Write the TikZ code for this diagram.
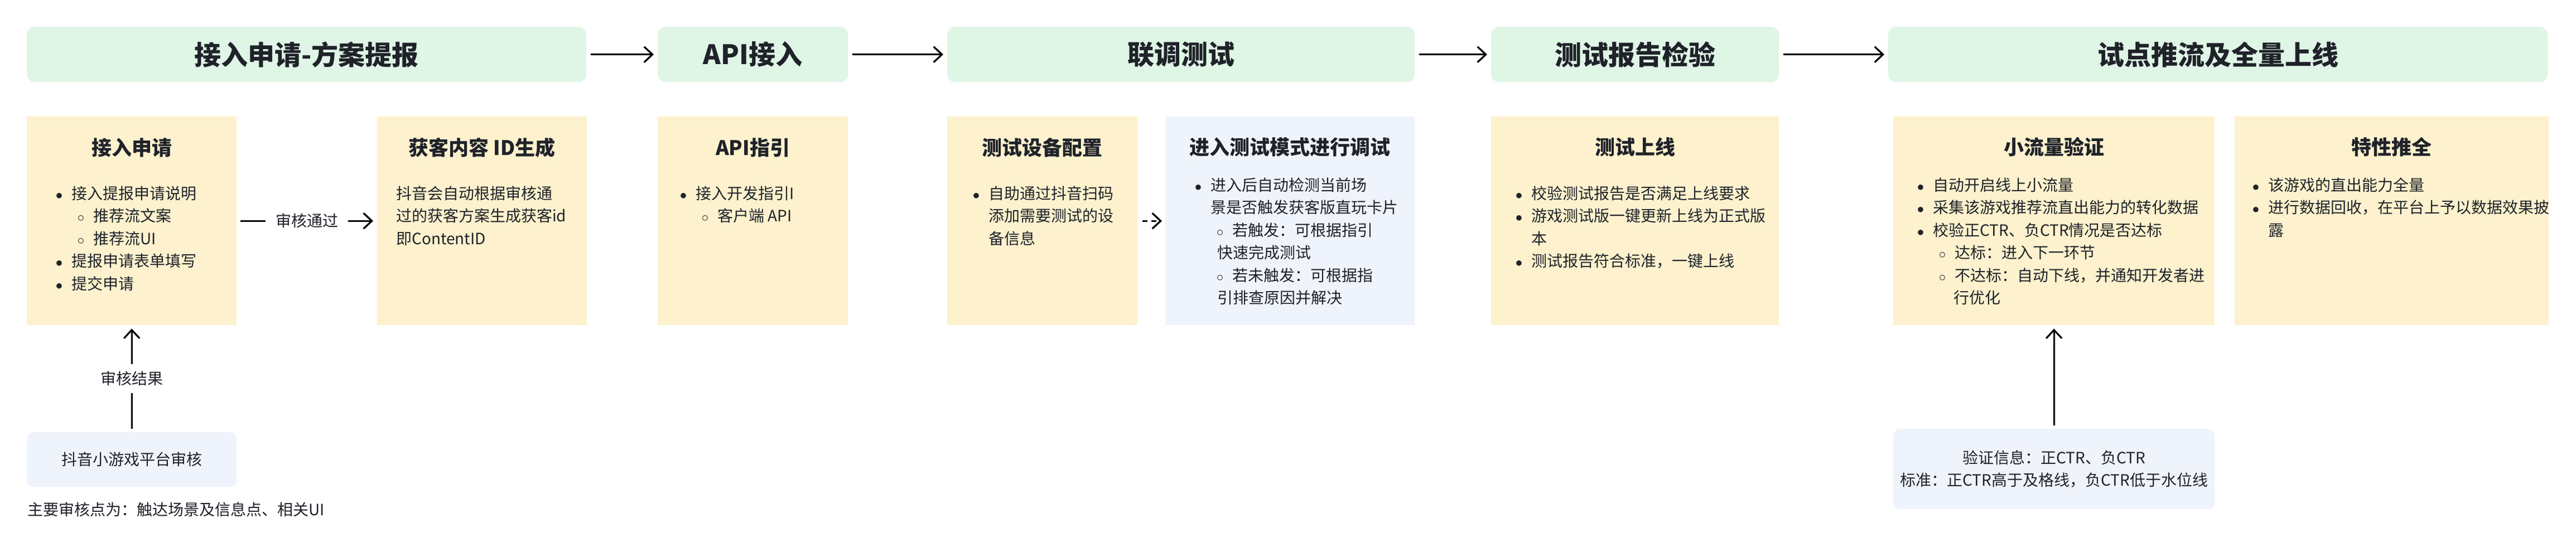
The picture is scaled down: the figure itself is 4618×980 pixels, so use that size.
\documentclass[tikz,border=0pt]{standalone}
\usepackage{fontspec}
\setmainfont{Noto Sans CJK SC}
\usepackage{tikz}
\usetikzlibrary{arrows.meta, positioning, calc}

\definecolor{hdrgreen}{HTML}{DFF5E5}
\definecolor{cardyellow}{HTML}{FEF1CD}
\definecolor{cardblue}{HTML}{EFF4FC}
\definecolor{ink}{HTML}{1F2329}

\newcommand{\bul}{\leavevmode\llap{$\bullet$\hspace{16pt}}}
\newcommand{\subb}{\hspace*{39pt}\llap{$\circ$\hspace{16pt}}}

\tikzset{
  phase/.style={fill=hdrgreen, rounded corners=14pt, anchor=north west, inner sep=0pt, text=ink, font=\fontsize{48}{56}\selectfont\bfseries},
  card/.style={fill=cardyellow, anchor=north west, inner sep=0pt, minimum height=374pt},
  bluecard/.style={card, fill=cardblue},
  notecard/.style={fill=cardblue, rounded corners=12pt, anchor=north west, inner sep=0pt, align=center, text=ink, font=\fontsize{28}{40}\selectfont},
  cardtitle/.style={inner sep=0pt, text=ink, font=\fontsize{36}{42}\selectfont\bfseries},
  body/.style={anchor=base west, align=left, inner sep=0pt, text=ink, font=\fontsize{28}{40.5}\selectfont},
  tag/.style={fill=white, inner xsep=18pt, inner ysep=13pt, text=ink, font=\fontsize{28}{34}\selectfont},
  flow/.style={line width=3.2pt, -{Straight Barb[length=15pt, width=28pt, line width=3.2pt]}, shorten <=8pt, shorten >=7pt}
}

\begin{document}
\begin{tikzpicture}[x=1pt, y=-1pt]
    \path[fill=white, use as bounding box] (0,0) rectangle (4618,980);
    % Phases
    \node[phase, minimum width=1003pt, minimum height=99pt] (hApply) at (48,48) {接入申请-方案提报};
    \node[phase, minimum width=341pt, minimum height=99pt] (hApi) at (1179,48) {API接入};
    \node[phase, minimum width=838pt, minimum height=99pt] (hJoint) at (1698,48) {联调测试};
    \node[phase, minimum width=516pt, minimum height=99pt] (hReport) at (2673,48) {测试报告检验};
    \node[phase, minimum width=1182pt, minimum height=99pt] (hLaunch) at (3385,48) {试点推流及全量上线};
    \draw[flow] (hApply) -- (hApi);
    \draw[flow] (hApi) -- (hJoint);
    \draw[flow] (hJoint) -- (hReport);
    \draw[flow] (hReport) -- (hLaunch);

    % Cards
    \node[card, minimum width=376pt] (apply) at (48,209) {};
    \node[card, minimum width=376pt] (idgen) at (676,209) {};
    \node[card, minimum width=341pt] (apiguide) at (1179,209) {};
    \node[card, minimum width=341pt] (devcfg) at (1698,209) {};
    \node[bluecard, minimum width=447pt] (debug) at (2089,209) {};
    \node[card, minimum width=516pt] (golive) at (2673,209) {};
    \node[card, minimum width=576pt] (smallflow) at (3394,209) {};
    \node[card, minimum width=563pt] (fullroll) at (4006,209) {};

    % Card titles
    \node[cardtitle] (applyT) at ($(apply.north)+(0,56)$) {接入申请};
    \node[cardtitle] (idgenT) at ($(idgen.north)+(0,56)$) {获客内容 ID生成};
    \node[cardtitle] (apiguideT) at ($(apiguide.north)+(0,56)$) {API指引};
    \node[cardtitle] (devcfgT) at ($(devcfg.north)+(0,56)$) {测试设备配置};
    \node[cardtitle] (debugT) at ($(debug.north)+(0,55)$) {进入测试模式进行调试};
    \node[cardtitle] (goliveT) at ($(golive.north)+(0,55)$) {测试上线};
    \node[cardtitle] (smallflowT) at ($(smallflow.north)+(0,55)$) {小流量验证};
    \node[cardtitle] (fullrollT) at ($(fullroll.north)+(0,55)$) {特性推全};

    % Card texts (placed by the baseline of the last line)
    \node[body] (applyB) at (128,519) {\bul 接入提报申请说明\\ \subb 推荐流文案\\ \subb 推荐流UI\\ \bul 提报申请表单填写\\ \bul 提交申请};
    \node[body] (idgenB) at (710,438) {抖音会自动根据审核通\\ 过的获客方案生成获客id\\ 即ContentID};
    \node[body] (apiguideB) at (1247,397.5) {\bul 接入开发指引I\\ \subb 客户端 API};
    \node[body] (devcfgB) at (1772,438) {\bul 自助通过抖音扫码\\ 添加需要测试的设\\ 备信息};
    \node[body] (debugB) at (2170,544.5) {\bul 进入后自动检测当前场\\ 景是否触发获客版直玩卡片\\ \subb 若触发：可根据指引\\ \hspace*{12pt}快速完成测试\\ \subb 若未触发：可根据指\\ \hspace*{12pt}引排查原因并解决};
    \node[body] (goliveB) at (2745,478.5) {\bul 校验测试报告是否满足上线要求\\ \bul 游戏测试版一键更新上线为正式版\\ 本\\ \bul 测试报告符合标准，一键上线};
    \node[body] (smallflowB) at (3465,544.5) {\bul 自动开启线上小流量\\ \bul 采集该游戏推荐流直出能力的转化数据\\ \bul 校验正CTR、负CTR情况是否达标\\ \subb 达标：进入下一环节\\ \subb 不达标：自动下线，并通知开发者进\\ \hspace*{37pt}行优化};
    \node[body] (fullrollB) at (4066,423) {\bul 该游戏的直出能力全量\\ \bul 进行数据回收，在平台上予以数据效果披\\ 露};

    % Notes below
    \node[notecard, minimum width=376pt, minimum height=98pt] (review) at (48,775) {抖音小游戏平台审核};
    \node[notecard, minimum width=576pt, minimum height=144pt] (verifyinfo) at (3394,769) {验证信息：正CTR、负CTR\\ 标准：正CTR高于及格线，负CTR低于水位线};
    \node[body] (reviewNote) at (49,924) {主要审核点为：触达场景及信息点、相关UI};

    % Connectors
    \draw[flow, shorten <=7pt] (apply) -- node[tag] {审核通过} (idgen);
    \draw[flow, shorten <=9pt, shorten >=6pt, dash pattern=on 9pt off 7pt] (devcfg) -- (debug);
    \draw[flow, shorten <=6pt, shorten >=6pt] (review) -- node[tag] {审核结果} (apply);
    \draw[flow, shorten <=6pt, shorten >=6pt] (verifyinfo) -- (smallflow);
\end{tikzpicture}
\end{document}
